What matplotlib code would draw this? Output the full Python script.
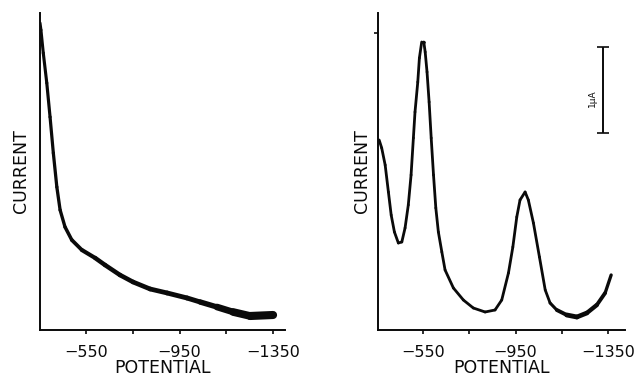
import numpy as np
import matplotlib
matplotlib.use("Agg")
import matplotlib.pyplot as plt
from matplotlib.collections import LineCollection

# left trace: potential (mV) vs current (arb. units)
pot_a = [-353, -357, -367, -382, -396, -410, -425, -439, -460, -489, -532, -589,
         -631, -695, -751, -824, -897, -982, -1038, -1110, -1179, -1252, -1350]
cur_a = [307, 300, 277, 247, 213, 177, 143, 120, 103, 90, 80, 72,
         65, 55, 48, 41, 37, 32, 28, 23, 18, 14, 15]

# right trace
pot_b = [-360, -371, -386, -400, -412, -426, -443, -458, -472, -486, -498, -508,
         -515, -527, -534, -544, -553, -559, -567, -576, -585, -595, -605, -616,
         -631, -645, -681, -724, -767, -818, -861, -890, -919, -938, -955, -969,
         -991, -1005, -1027, -1053, -1078, -1099, -1128, -1171, -1215, -1258,
         -1301, -1337, -1363]
cur_b = [190, 182, 165, 138, 115, 98, 87, 88, 102, 125, 155, 192,
         218, 248, 272, 288, 288, 278, 258, 228, 192, 155, 122, 98,
         78, 60, 42, 30, 22, 18, 20, 30, 57, 83, 113, 130,
         138, 130, 107, 73, 40, 27, 20, 15, 13, 17,
         25, 37, 55]

ticks = [-550, -750, -950, -1150, -1350]
tick_labels = ["\u2212550", "", "\u2212950", "", "\u22121350"]

plt.rcParams['font.family'] = ['DejaVu Sans']

fig = plt.figure(figsize=(6.37, 3.83), dpi=100)
ax1 = fig.add_axes([0.0628, 0.1384, 0.3846, 0.8277])
ax2 = fig.add_axes([0.5934, 0.1384, 0.3878, 0.8277])

ink = "#0a0a0a"


def style(ax, xlim, lab_x):
    ax.set_xlim(*xlim)
    ax.set_ylim(0, 317)
    for s in ["top", "right"]:
        ax.spines[s].set_visible(False)
    for s in ["left", "bottom"]:
        ax.spines[s].set_linewidth(1.4)
        ax.spines[s].set_color(ink)
    ax.set_xticks(ticks)
    ax.set_xticklabels(tick_labels, fontsize=11.5)
    ax.tick_params(axis="x", direction="out", length=3, width=1.2, pad=8, colors=ink)
    ax.set_xlabel("POTENTIAL", fontsize=12.5, labelpad=-1, color=ink)
    ax.set_ylabel("CURRENT", fontsize=12.5, color=ink)
    ax.yaxis.set_label_coords(lab_x, 0.5)


def trace(ax, x, y, wx, ww):
    # pen line whose width changes along the sweep
    x = np.asarray(x, float)
    y = np.asarray(y, float)
    segs = np.stack([np.column_stack([x[:-1], y[:-1]]),
                     np.column_stack([x[1:], y[1:]])], axis=1)
    mids = (x[:-1] + x[1:]) / 2
    widths = np.interp(-mids, -np.asarray(wx, float), ww)
    lc = LineCollection(segs, linewidths=widths, colors=ink, capstyle="round",
                        joinstyle="round")
    ax.add_collection(lc)


style(ax1, (-353, -1401), -0.04)
ax1.set_yticks([])
trace(ax1, pot_a, cur_a, [-353, -450, -600, -1050, -1200, -1350],
      [2.2, 2.4, 3.2, 3.6, 5.5, 6.0])

style(ax2, (-355, -1423), -0.03)
ax2.set_yticks([297])
ax2.set_yticklabels([""])
ax2.tick_params(axis="y", direction="out", length=3, width=1.2, colors=ink)
trace(ax2, pot_b, cur_b, [-360, -1100, -1200, -1300, -1363],
      [2.0, 2.0, 3.6, 3.0, 2.2])

# 1 uA scale bar
ax2.errorbar([-1328], [240], yerr=[[43], [43]], fmt="none", ecolor=ink,
             elinewidth=1.4, capsize=4, capthick=1.2)
ax2.text(-1282, 232, "1\u03bcA", rotation=90, fontsize=6.5, ha="center",
         va="center", color=ink)

fig.savefig("out.png", dpi=100)
